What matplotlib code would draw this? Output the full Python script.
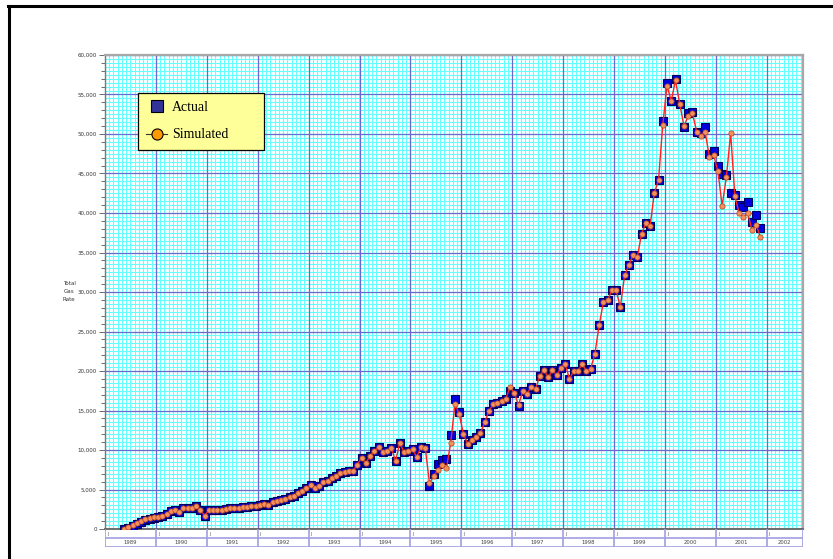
import numpy as np
import matplotlib
matplotlib.use("Agg")
import matplotlib.pyplot as plt
from matplotlib.lines import Line2D

# ---------------- data (monthly, May 1989 .. Nov 2001) ----------------
start_year = 1989
start_month = 5   # May
simulated = [
    0, 250, 550, 800, 1000, 1250, 1400, 1500,                      # 1989 May-Dec
    1500, 1600, 1900, 2300, 2400, 2100, 2600, 2700, 2700, 2900, 2400, 1700,   # 1990
    2400, 2350, 2400, 2450, 2550, 2600, 2650, 2700, 2750, 2800, 2900, 2950,   # 1991
    3100, 3200, 3100, 3400, 3600, 3700, 3800, 4000, 4200, 4500, 4850, 5250,   # 1992
    5550, 5250, 5400, 5900, 6050, 6450, 6700, 7100, 7200, 7350, 7350, 8150,   # 1993
    9050, 8300, 9300, 9850, 10400, 9800, 9850, 10300, 8600, 10900, 9700, 9900,  # 1994
    10100, 9100, 10400, 10300, 5800, 6700, 7500, 8050, 7700, 10900, 15800, 14600,  # 1995
    12000, 10800, 11300, 11600, 12150, 13500, 14900, 15800, 16000, 16250, 16500, 18000,  # 1996
    17200, 15700, 17500, 17100, 18000, 17700, 19400, 20100, 19200, 20100, 19500, 20400,  # 1997
    20900, 19000, 20000, 20000, 20900, 20000, 20300, 22200, 25800, 28700, 29000, 30200,  # 1998
    30200, 28100, 32100, 33400, 34700, 34400, 37400, 38700, 38300, 42500, 44200, 51200,  # 1999
    56100, 54200, 56800, 53800, 51000, 52300, 52600, 50300, 49800, 50200, 47100, 47300,  # 2000
    45300, 40900, 44600, 50100, 42100, 40000, 39500, 40000, 37900, 38500, 37000,  # 2001 Jan-Nov
]
actual = [
    0, 150, 400, 650, 900, 1100, 1300, 1450,
    1500, 1600, 1900, 2300, 2400, 2100, 2600, 2700, 2700, 2900, 2400, 1700,
    2400, 2350, 2400, 2450, 2550, 2600, 2650, 2700, 2750, 2800, 2900, 2950,
    3100, 3200, 3100, 3400, 3600, 3700, 3800, 4000, 4200, 4500, 4850, 5250,
    5550, 5250, 5400, 5900, 6050, 6450, 6700, 7100, 7200, 7350, 7350, 8150,
    9050, 8300, 9300, 9850, 10400, 9800, 9850, 10300, 8600, 10900, 9700, 9900,
    10100, 9100, 10400, 10300, 5450, 7000, 8200, 8700, 8800, 11900, 16400, 14800,
    12000, 10800, 11300, 11600, 12150, 13500, 14900, 15800, 16000, 16250, 16500, 17500,
    17200, 15600, 17500, 17100, 18000, 17700, 19400, 20100, 19200, 20100, 19500, 20400,
    20900, 19000, 20000, 20000, 20900, 20000, 20300, 22200, 25800, 28700, 29000, 30200,
    30200, 28100, 32100, 33400, 34700, 34400, 37400, 38700, 38300, 42500, 44200, 51600,
    56400, 54200, 57000, 53800, 50900, 52600, 52800, 50300, 50100, 50900, 47500, 47900,
    46000, 44900, 44800, 42500, 42300, 41000, 40800, 41400, 38900, 39700, 38100,
]
year_labels = [str(y) for y in range(1989, 2003)]
y_ticks = list(range(0, 60001, 5000))
y_label = "Total\nGas\nRate"

# ---------------- figure ----------------
W, H = 833, 559
fig = plt.figure(figsize=(W / 100, H / 100), dpi=100)
fig.patch.set_facecolor("white")

def fx(px):
    return px / W

def fy(py):
    return 1 - py / H

L, R, T, B = 105, 803, 55, 529
ax = fig.add_axes([fx(L), fy(B), fx(R - L), fy(T) - fy(B)])
x_end = 1989 + (R - L) / 50.9

x = [start_year + (start_month - 1 + i + 0.5) / 12 for i in range(len(simulated))]

ax.set_xlim(1989, x_end)
ax.set_ylim(0, 60000)

# grid
months = np.arange(1989, x_end, 1 / 12)
ax.vlines(months, 0, 60000, colors="#66FFFF", lw=0.8, zorder=0)
ax.hlines(np.arange(0, 60001, 500), 1989, x_end, colors="#66FFFF", lw=0.8, zorder=0)
ax.vlines(np.arange(1990, 2003), 0, 60000, colors="#6A6ACC", lw=0.9, zorder=0.5)
ax.hlines(np.arange(5000, 60001, 5000), 1989, x_end, colors="#6A6ACC", lw=0.9, zorder=0.5)

# data
ax.plot(x, actual, ls="none", marker="s", ms=6.3, mfc="#0000E0", mec="#000060",
        mew=0.8, zorder=3)
ax.plot(x, simulated, color="#FF2020", lw=1.0, marker="o", ms=3.8, mfc="#F4905A",
        mec="#B04020", mew=0.5, zorder=4)

# axes styling
ax.set_xticks([])
ax.set_yticks(y_ticks)
ax.set_yticklabels([f"{v:,}" for v in y_ticks], fontsize=4, color="#333333")
ax.set_yticks(np.arange(0, 60001, 1000), minor=True)
ax.tick_params(axis="y", which="major", length=4, width=0.6, pad=2, color="#555555")
ax.tick_params(axis="y", which="minor", length=3, width=0.6, color="#555555")
for s in ("top", "right"):
    ax.spines[s].set_color("#A8A8A8")
    ax.spines[s].set_linewidth(1.6)
ax.spines["left"].set_color("#777777")
ax.spines["left"].set_linewidth(1.0)
ax.spines["bottom"].set_color("#555555")
ax.spines["bottom"].set_linewidth(1.2)

fig.text(fx(69), fy(291.5), y_label, fontsize=4, ha="center", va="center",
         multialignment="center", linespacing=1.7, color="#333333")

# legend
h_act = Line2D([], [], ls="none", marker="s", ms=8, mfc="#333399", mec="#000000", mew=0.8)
h_sim = Line2D([], [], color="#333333", lw=0.8, marker="o", ms=8, mfc="#FF9900",
               mec="#000000", mew=0.8)
lx0 = (138 - L) / (R - L)
lx1 = (264 - L) / (R - L)
ly1 = (B - 92.5) / (B - T)
ly0 = (B - 155) / (B - T)
leg = ax.legend([h_act, h_sim], ["Actual", "Simulated"], loc="upper left",
                bbox_to_anchor=(lx0, ly0, lx1 - lx0, ly1 - ly0), mode="expand",
                prop={"family": "Liberation Serif", "size": 10},
                frameon=True, fancybox=False, framealpha=1, facecolor="#FFFF99",
                edgecolor="#000000", borderpad=0.6, labelspacing=1.05,
                handlelength=1.5, handletextpad=0.35, borderaxespad=0)
leg.get_frame().set_linewidth(0.9)
leg.set_zorder(10)

# year label strip below plot
ax2 = fig.add_axes([fx(L), fy(547), fx(R - L), fy(B) - fy(547)])
ax2.set_xlim(1989, x_end)
ax2.set_ylim(0, 1)
ax2.axis("off")
lav = "#A0A0E0"
ax2.vlines(list(range(1989, 2003)) + [x_end], 0, 1, colors=lav, lw=1.2)
ax2.hlines([0.02, 0.52], 1989, x_end, colors=lav, lw=1.2)
for i, lab in enumerate(year_labels):
    x0 = 1989 + i
    x1 = min(x0 + 1, x_end)
    ax2.text((x0 + x1) / 2, 0.26, lab, fontsize=3.8, ha="center", va="center",
             color="#444444")
    ax2.text(x0 + 0.04, 0.75, "J", fontsize=3, ha="left", va="center", color="#444444")

# page border
fig.add_artist(Line2D([fx(8), 1], [fy(6), fy(6)], color="black", lw=2.2))
fig.add_artist(Line2D([fx(8.5), fx(8.5)], [0, fy(6)], color="black", lw=2.2))

fig.savefig("out.png", dpi=100)
